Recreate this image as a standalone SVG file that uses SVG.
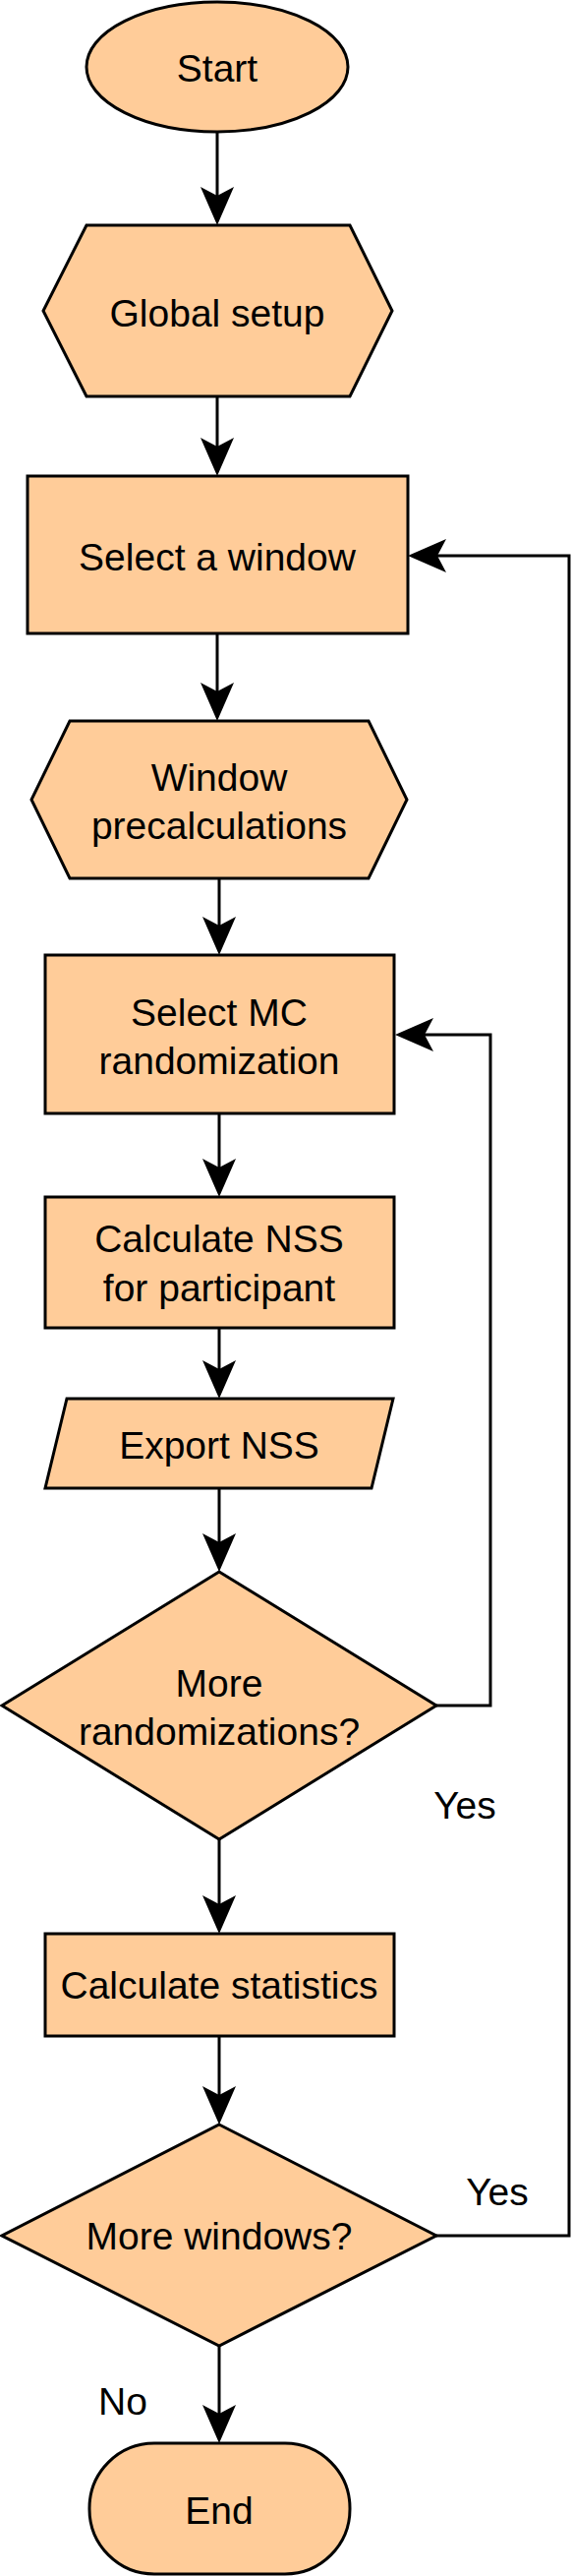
<svg xmlns="http://www.w3.org/2000/svg" width="582" height="2619" viewBox="0 0 582 2619">
<style>
.n{fill:#FFCC99;stroke:#000;stroke-width:3}
.t{font-family:"Liberation Sans",Arial,sans-serif;font-size:39px;fill:#000;text-anchor:middle}
.c{fill:none;stroke:#000;stroke-width:3}
</style>
<defs>
<marker id="arr" markerUnits="userSpaceOnUse" viewBox="-12 -18 44 36" markerWidth="44" markerHeight="36" refX="0" refY="0" orient="auto">
<path d="M30,0 L-9,-17 L0,0 L-9,17 Z" fill="#000"/>
</marker>
</defs>
<rect width="582" height="2619" fill="#fff"/>
<g id="connectors">
<path class="c" d="M221,134 V199" marker-end="url(#arr)"/>
<path class="c" d="M221,403 V454" marker-end="url(#arr)"/>
<path class="c" d="M221,644 V703" marker-end="url(#arr)"/>
<path class="c" d="M223,893 V941" marker-end="url(#arr)"/>
<path class="c" d="M223,1132 V1187" marker-end="url(#arr)"/>
<path class="c" d="M223,1350 V1392" marker-end="url(#arr)"/>
<path class="c" d="M223,1513 V1568" marker-end="url(#arr)"/>
<path class="c" d="M223,1870 V1936" marker-end="url(#arr)"/>
<path class="c" d="M223,2070 V2130" marker-end="url(#arr)"/>
<path class="c" d="M223,2385 V2454" marker-end="url(#arr)"/>
<path class="c" d="M444,1734 H499 V1052 H432" marker-end="url(#arr)"/>
<path class="c" d="M444,2273 H579 V565 H445" marker-end="url(#arr)"/>
<text class="t" x="473" y="1849">Yes</text>
<text class="t" x="506" y="2242">Yes</text>
<text class="t" x="125" y="2455">No</text>
</g>
<g id="start">
<ellipse class="n" cx="221" cy="68" rx="133" ry="66"/>
<text class="t" x="221" y="83">Start</text>
</g>
<g id="global-setup">
<polygon class="n" points="88,229 356,229 399,316 356,403 88,403 44,316"/>
<text class="t" x="221" y="332">Global setup</text>
</g>
<g id="select-window">
<rect class="n" x="28" y="484" width="387" height="160"/>
<text class="t" x="221" y="580">Select a window</text>
</g>
<g id="window-precalc">
<polygon class="n" points="71,733 375,733 414,813 375,893 71,893 32,813"/>
<text class="t" x="223" y="804">Window</text>
<text class="t" x="223" y="853">precalculations</text>
</g>
<g id="select-mc">
<rect class="n" x="46" y="971" width="355" height="161"/>
<text class="t" x="223" y="1043">Select MC</text>
<text class="t" x="223" y="1092">randomization</text>
</g>
<g id="calc-nss">
<rect class="n" x="46" y="1217" width="355" height="133"/>
<text class="t" x="223" y="1273">Calculate NSS</text>
<text class="t" x="223" y="1323">for participant</text>
</g>
<g id="export-nss">
<polygon class="n" points="68,1422 400,1422 378,1513 46,1513"/>
<text class="t" x="223" y="1483">Export NSS</text>
</g>
<g id="more-randomizations">
<polygon class="n" points="223,1598 444,1734 223,1870 2,1734"/>
<text class="t" x="223" y="1725">More</text>
<text class="t" x="223" y="1774">randomizations?</text>
</g>
<g id="calc-stats">
<rect class="n" x="46" y="1966" width="355" height="104"/>
<text class="t" x="223" y="2032">Calculate statistics</text>
</g>
<g id="more-windows">
<polygon class="n" points="223,2160 444,2273 223,2385 2,2273"/>
<text class="t" x="223" y="2287">More windows?</text>
</g>
<g id="end">
<rect class="n" x="91" y="2484" width="265" height="133" rx="66" ry="66"/>
<text class="t" x="223" y="2566">End</text>
</g>
</svg>
